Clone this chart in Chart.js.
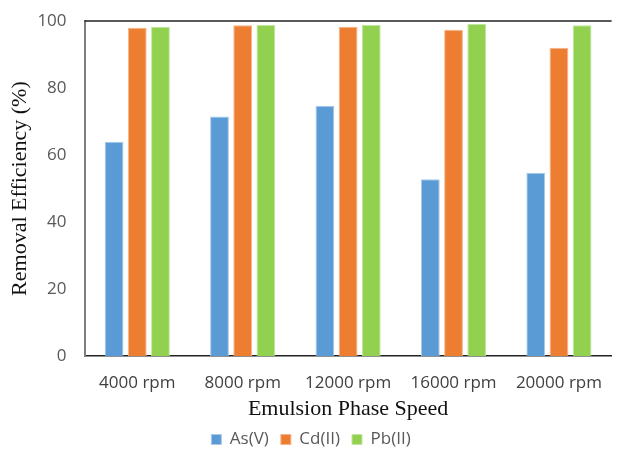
<!DOCTYPE html>
<html>
<head>
<meta charset="utf-8">
<script src="https://cdn.jsdelivr.net/npm/chart.js@4/dist/chart.umd.min.js"></script>
<style>
  html, body { margin:0; padding:0; background:#fff; }
  #wrap { width:619px; height:450px; }
</style>
</head>
<body>
<div id="wrap"><canvas id="c"></canvas></div>
<script>
const speeds = ["4000 rpm","8000 rpm","12000 rpm","16000 rpm","20000 rpm"];
const asV  = [64, 71.5, 74.7, 52.8, 54.7];
const cdII = [98, 98.7, 98.3, 97.4, 92];
const pbII = [98.3, 98.8, 98.8, 99.1, 98.7];
const yTicks = [0, 20, 40, 60, 80, 100];

const SANS = "'Open Sans', 'Liberation Sans', sans-serif";
const SERIF = "'Liberation Serif', 'DejaVu Serif', serif";

// top frame line like the excel plot area
const frame = {
  id:"frame",
  afterDraw(chart){
    const {ctx, chartArea:a} = chart;
    ctx.save();
    ctx.strokeStyle = "#222";
    ctx.lineWidth = 1.5;
    ctx.beginPath();
    ctx.moveTo(a.left, a.top); ctx.lineTo(a.right, a.top);
    ctx.stroke();
    ctx.restore();
  }
};

const ds = (label, data, color, edge) => ({
  label, data, backgroundColor:color, borderColor:edge, borderWidth:1,
  categoryPercentage:0.66, barPercentage:0.81
});

// chart.js reserves tick padding twice, negative title padding takes it back
new Chart(document.getElementById("c"), {
  type:"bar",
  data:{
    labels:speeds,
    datasets:[
      ds("As(V)", asV, "#5B9BD5", "#a9c9ea"),
      ds("Cd(II)", cdII, "#ED7D31", "#f5b48a"),
      ds("Pb(II)", pbII, "#92D050", "#c2e69d")
    ]
  },
  options:{
    responsive:true, maintainAspectRatio:false, animation:false,
    layout:{ padding:{ top:21, right:0, left:3, bottom:-8 } },
    plugins:{
      legend:{ position:"bottom", labels:{ boxWidth:10, boxHeight:10, padding:12, color:"#595959", font:{ family:SANS, size:17 } } },
      tooltip:{ enabled:false }
    },
    scales:{
      x:{
        grid:{ display:false, drawTicks:false },
        border:{ color:"#222", width:1.5 },
        ticks:{ color:"#404040", padding:17, font:{ family:SANS, size:17 } },
        title:{ display:true, text:"Emulsion Phase Speed", color:"#111", padding:{ top:-15, bottom:-3 }, font:{ family:SERIF, size:22 } }
      },
      y:{
        min:0, max:100,
        afterBuildTicks:(s)=>{ s.ticks = yTicks.map(v=>({ value:v })); },
        afterFit:(s)=>{ s.paddingTop = 0; s.paddingBottom = 0; },
        grid:{ display:false, drawTicks:false },
        border:{ color:"#7f7f7f", width:2 },
        ticks:{ color:"#595959", padding:18, font:{ family:SANS, size:17 } },
        title:{ display:true, text:"Removal Efficiency (%)", color:"#111", padding:{ top:4, bottom:-14 }, font:{ family:SERIF, size:22 } }
      }
    }
  },
  plugins:[frame]
});
</script>
</body>
</html>
